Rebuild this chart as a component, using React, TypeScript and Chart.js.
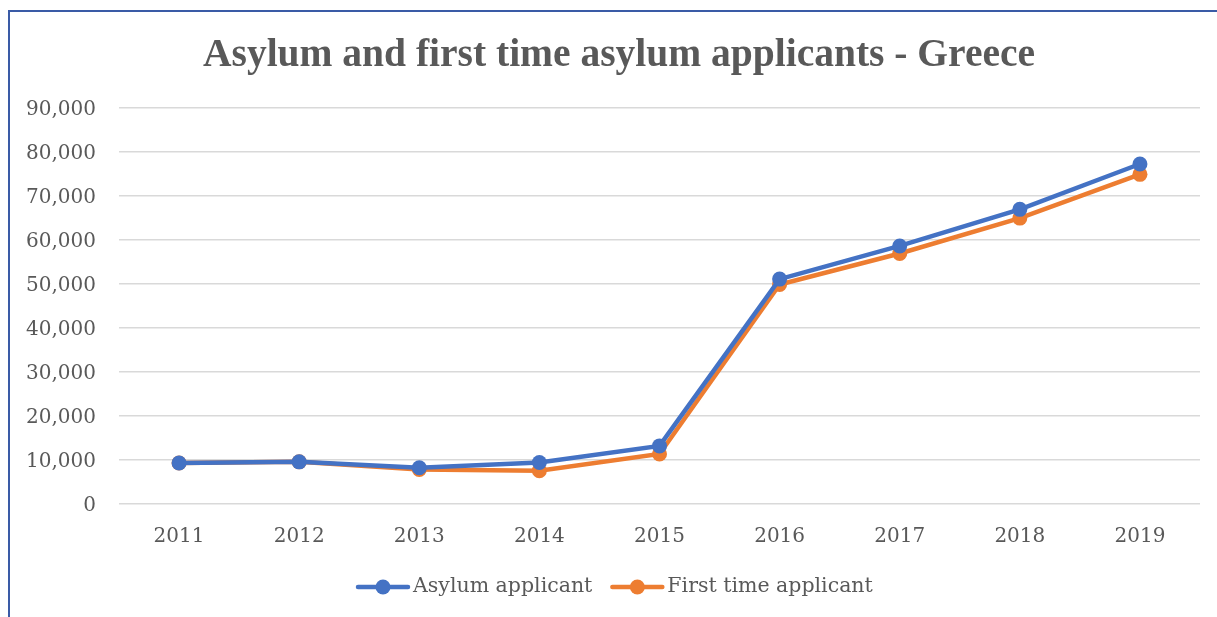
import React, { useEffect, useRef } from "react";
import { Chart, registerables } from "chart.js";

Chart.register(...registerables);

const TITLE = "Asylum and first time asylum applicants - Greece";
const YEARS = ["2011", "2012", "2013", "2014", "2015", "2016", "2017", "2018", "2019"];
const ASYLUM = [9310, 9575, 8225, 9430, 13205, 51110, 58650, 66965, 77275];
const FIRST_TIME = [9310, 9575, 7860, 7585, 11370, 49875, 56940, 64975, 74915];
const SERIES_NAMES = ["Asylum applicant", "First time applicant"];
const COLORS = ["#4472C4", "#ED7D31"];

const FONT = "'DejaVu Serif', serif";
const TEXT = "#595959";

const decorPlugin = {
  id: "decor",
  afterDraw(chart: any) {
    const ctx = chart.ctx as CanvasRenderingContext2D;
    ctx.save();
    // frame
    ctx.strokeStyle = "#3A5BA6";
    ctx.lineWidth = 2;
    ctx.beginPath();
    ctx.moveTo(9, 700);
    ctx.lineTo(9, 11);
    ctx.lineTo(1217, 11);
    ctx.stroke();
    // title
    ctx.fillStyle = TEXT;
    ctx.font = "bold 39.5px 'Liberation Serif', serif";
    ctx.textAlign = "center";
    ctx.textBaseline = "middle";
    ctx.fillText(TITLE, 619, 56);
    // legend
    ctx.font = "20.5px " + FONT;
    const y = 587;
    const lineW = 50;
    const gapText = 5;
    const gapItems = 20;
    const widths = chart.data.datasets.map(
      (d: any) => lineW + gapText + ctx.measureText(d.label).width
    );
    let x = 358;
    chart.data.datasets.forEach((d: any, i: number) => {
      ctx.strokeStyle = d.borderColor;
      ctx.lineWidth = 4.5;
      ctx.lineCap = "round";
      ctx.beginPath();
      ctx.moveTo(x, y);
      ctx.lineTo(x + lineW, y);
      ctx.stroke();
      ctx.fillStyle = d.borderColor;
      ctx.beginPath();
      ctx.arc(x + lineW / 2, y, 7.5, 0, Math.PI * 2);
      ctx.fill();
      ctx.fillStyle = TEXT;
      ctx.textAlign = "left";
      ctx.textBaseline = "middle";
      ctx.fillText(d.label, x + lineW + gapText, y);
      x += widths[i] + gapItems;
    });
    ctx.restore();
  },
};

export default function App() {
  const ref = useRef<HTMLCanvasElement>(null);
  useEffect(() => {
    const chart = new Chart(ref.current as HTMLCanvasElement, {
      type: "line",
      data: {
        labels: YEARS,
        datasets: [
          {
            label: SERIES_NAMES[0],
            data: ASYLUM,
            borderColor: COLORS[0],
            backgroundColor: COLORS[0],
            borderWidth: 4.5,
            pointRadius: 7.5,
            pointBorderWidth: 0,
            pointBackgroundColor: COLORS[0],
            tension: 0,
          },
          {
            label: SERIES_NAMES[1],
            data: FIRST_TIME,
            borderColor: COLORS[1],
            backgroundColor: COLORS[1],
            borderWidth: 4.5,
            pointRadius: 7.5,
            pointBorderWidth: 0,
            pointBackgroundColor: COLORS[1],
            tension: 0,
          },
        ],
      },
      options: {
        responsive: false,
        animation: false,
        devicePixelRatio: 1,
        layout: { padding: { top: 108, right: 17, bottom: 0, left: 0 } },
        plugins: {
          legend: { display: false },
          title: { display: false },
          tooltip: { enabled: false },
        },
        scales: {
          x: {
            offset: true,
            grid: { display: false, drawTicks: false },
            border: { display: false },
            ticks: { color: TEXT, font: { family: FONT, size: 20 }, padding: 21 },
            afterFit: (s: any) => {
              s.height = 113;
            },
          },
          y: {
            min: 0,
            max: 90000,
            ticks: {
              stepSize: 10000,
              color: TEXT,
              font: { family: FONT, size: 20 },
              padding: 23,
              labelOffset: 2,
              callback: (v: any) => Number(v).toLocaleString("en-US"),
            },
            grid: { color: "#D9D9D9", lineWidth: 1.5, drawTicks: false },
            border: { display: false },
            afterFit: (s: any) => {
              s.width = 119;
            },
          },
        },
      },
      plugins: [decorPlugin],
    });
    return () => chart.destroy();
  }, []);
  return (
    <canvas
      ref={ref}
      width={1217}
      height={617}
      style={{ position: "fixed", left: 0, top: 0, background: "#fff" }}
    />
  );
}
